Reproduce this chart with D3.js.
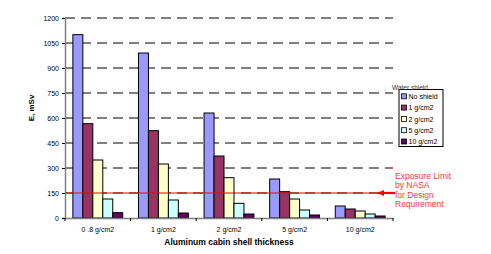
<!DOCTYPE html>
<html>
<head>
<meta charset="utf-8">
<script src="https://cdn.jsdelivr.net/npm/d3@7"></script>
<style>
  body { margin: 0; background: #fff; }
  svg { font-family: "Liberation Sans", Arial, sans-serif; }
</style>
</head>
<body>
<svg id="chart"></svg>
<script>
const categories = ['0 .8 g/cm2', '1 g/cm2', '2 g/cm2', '5 g/cm2', '10 g/cm2'];
const seriesNames = ['No shield', '1 g/cm2', '2 g/cm2', '5 g/cm2', '10 g/cm2'];
const seriesColors = ['#9999ff', '#993366', '#ffffcc', '#ccffff', '#660066'];
const noShield = [1100, 990, 630, 234, 72];
const water1 = [566, 524, 372, 158, 54];
const water2 = [348, 324, 242, 114, 42];
const water5 = [114, 108, 88, 48, 24];
const water10 = [32, 30, 24, 18, 12];
const yTicks = [0, 150, 300, 450, 600, 750, 900, 1050, 1200];
const limitValue = 150;
const limitLabel = ['Exposure Limit', 'by NASA', 'for Design', 'Requirement'];

const allSeries = [noShield, water1, water2, water5, water10];

const svg = d3.select('#chart')
    .attr('width', 491)
    .attr('height', 254);

const plotLeft = 65, plotRight = 393, plotTop = 18, plotBottom = 218;

const x0 = d3.scaleBand().domain(categories).range([plotLeft, plotRight])
    .paddingInner(0.24).paddingOuter(0.12);
const x1 = d3.scaleBand().domain(seriesNames).range([0, x0.bandwidth()]);
const y = d3.scaleLinear().domain([0, 1200]).range([plotBottom, plotTop]);

// dashed gridlines
svg.append('g')
    .selectAll('line')
    .data(yTicks.filter(d => d > 0))
    .enter()
    .append('line')
    .attr('x1', plotLeft)
    .attr('x2', plotRight)
    .attr('y1', d => y(d))
    .attr('y2', d => y(d))
    .attr('stroke', '#000')
    .attr('stroke-width', 1)
    .attr('stroke-dasharray', '10,6');

// bars
const groups = svg.append('g')
    .selectAll('g')
    .data(categories)
    .enter()
    .append('g')
    .attr('transform', d => `translate(${x0(d)},0)`);

groups.selectAll('rect')
    .data((c, i) => seriesNames.map((s, j) => ({ s, v: allSeries[j][i], color: seriesColors[j] })))
    .enter()
    .append('rect')
    .attr('x', d => x1(d.s))
    .attr('y', d => y(d.v))
    .attr('width', x1.bandwidth())
    .attr('height', d => y(0) - y(d.v))
    .attr('fill', d => d.color)
    .attr('stroke', '#000')
    .attr('stroke-width', 1);

// y axis
const yAxis = svg.append('g')
    .attr('transform', `translate(${plotLeft},0)`)
    .call(d3.axisLeft(y).tickValues(yTicks).tickFormat(d3.format('d')).tickSize(3).tickPadding(3));
yAxis.select('.domain').attr('stroke', '#808080').attr('stroke-width', 1.5);
yAxis.selectAll('.tick line').attr('stroke', '#000');
yAxis.selectAll('text').attr('font-size', '7px').attr('fill', '#000')
    .attr('font-family', '"Liberation Sans", Arial, sans-serif');

// x axis
const xAxis = svg.append('g')
    .attr('transform', `translate(0,${plotBottom})`)
    .call(d3.axisBottom(x0).tickSize(0).tickPadding(9));
xAxis.select('.domain').attr('stroke', '#808080').attr('stroke-width', 1.5);
xAxis.selectAll('text').attr('font-size', '7px').attr('fill', '#000')
    .attr('font-family', '"Liberation Sans", Arial, sans-serif');
const step = x0.step();
xAxis.append('g')
    .selectAll('line')
    .data(d3.range(categories.length + 1))
    .enter()
    .append('line')
    .attr('x1', i => plotLeft + i * step)
    .attr('x2', i => plotLeft + i * step)
    .attr('y1', 0)
    .attr('y2', 3)
    .attr('stroke', '#000');

// limit line
const limitY = y(limitValue);
svg.append('line')
    .attr('x1', plotLeft)
    .attr('x2', 380)
    .attr('y1', limitY)
    .attr('y2', limitY)
    .attr('stroke', '#ff0000')
    .attr('stroke-width', 1);

svg.append('line')
    .attr('x1', 382)
    .attr('x2', 395)
    .attr('y1', limitY)
    .attr('y2', limitY)
    .attr('stroke', '#ff0000')
    .attr('stroke-width', 2.2);
svg.append('path')
    .attr('d', `M377,${limitY} L384,${limitY - 3} L384,${limitY + 3} Z`)
    .attr('fill', '#ff0000');

svg.append('text')
    .attr('x', 395)
    .attr('y', limitY - 14)
    .attr('font-size', '8.5px')
    .attr('fill', '#ff3333')
    .selectAll('tspan')
    .data(limitLabel)
    .enter()
    .append('tspan')
    .attr('x', 395)
    .attr('dy', (d, i) => i === 0 ? 0 : 9.3)
    .text(d => d);

// axis titles
svg.append('text')
    .attr('transform', 'translate(34,108) rotate(-90)')
    .attr('text-anchor', 'middle')
    .attr('font-size', '8px')
    .attr('font-weight', 'bold')
    .text('E, mSv');

svg.append('text')
    .attr('x', (plotLeft + plotRight) / 2)
    .attr('y', 245)
    .attr('text-anchor', 'middle')
    .attr('font-size', '8.5px')
    .attr('font-weight', 'bold')
    .text('Aluminum cabin shell thickness');

// legend
const legend = svg.append('g');
legend.append('rect')
    .attr('x', 399)
    .attr('y', 89.5)
    .attr('width', 44)
    .attr('height', 57)
    .attr('fill', '#fff')
    .attr('stroke', '#000')
    .attr('stroke-width', 1);
legend.append('text')
    .attr('x', 392)
    .attr('y', 90)
    .attr('font-size', '6.5px')
    .attr('fill', '#333')
    .text('Water shield');

const items = legend.selectAll('g.item')
    .data(seriesNames)
    .enter()
    .append('g')
    .attr('class', 'item')
    .attr('transform', (d, i) => `translate(401,${96.3 + i * 11.3})`);
items.append('rect')
    .attr('x', 0.5)
    .attr('y', -2.5)
    .attr('width', 5)
    .attr('height', 5)
    .attr('fill', (d, i) => seriesColors[i])
    .attr('stroke', '#000')
    .attr('stroke-width', 0.8);
items.append('text')
    .attr('x', 7.5)
    .attr('y', 2.6)
    .attr('font-size', '7px')
    .text(d => d);
</script>
</body>
</html>
